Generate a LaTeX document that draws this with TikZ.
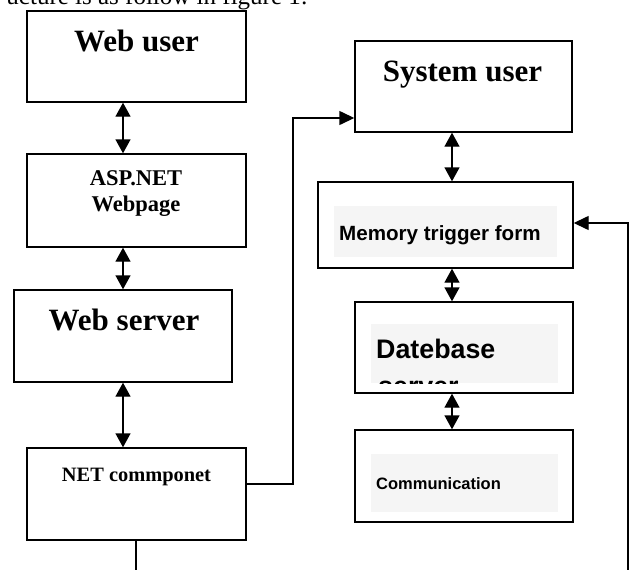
\documentclass[tikz,border=0pt]{standalone}
\usepackage{fontspec}
\setmainfont{Liberation Serif}
\newfontfamily\arialfam{Liberation Sans}
\usepackage{tikz}
\usetikzlibrary{positioning,arrows.meta}

\begin{document}
\begin{tikzpicture}[
  x=1pt, y=-1pt,
  box/.style={draw=black, line width=1.4pt, fill=white, inner sep=0pt},
  shadebox/.style={fill=black!4, inner sep=0pt},
  ttl/.style={anchor=base, inner sep=0pt, font=\bfseries\fontsize{31}{36}\selectfont},
  sml/.style={anchor=base, inner sep=0pt, font=\bfseries\fontsize{20.4}{24}\selectfont},
  sanslbl/.style={anchor=base west, inner sep=0pt, font=\arialfam\bfseries},
  dbl/.style={{Triangle[length=14pt,width=15pt]}-{Triangle[length=14pt,width=15pt]}, line width=1.4pt},
  one/.style={-{Triangle[length=15pt,width=14pt]}, line width=1.4pt},
  wire/.style={line width=1.4pt}
]
\useasboundingbox (0,0) rectangle (635,570);

% caption line cut at the top
\node[anchor=base east, inner sep=0pt, font=\fontsize{25}{30}\selectfont] (caption) at (308,5) {ucture is as follow in figure 1:};

% left column
\node[box, minimum width=219pt, minimum height=91pt] (webuser) at (136.5,56.5) {};
\node[ttl] (webusertxt) at (136.5,51) {Web user};

\node[box, minimum width=219pt, minimum height=93pt] (aspnet) at (136.5,200.5) {};
\node[align=center, inner sep=0pt, font=\bfseries\fontsize{22.5}{26}\selectfont] (aspnettxt) at (136,194) {ASP.NET\\Webpage};

\node[box, minimum width=218pt, minimum height=92pt] (webserver) at (123,336) {};
\node[ttl] (webservertxt) at (124,330) {Web server};

\node[box, minimum width=219pt, minimum height=92pt] (netcomp) at (136.5,494) {};
\node[sml] (netcomptxt) at (136.5,481) {NET commponet};

% right column
\node[box, minimum width=217pt, minimum height=91pt] (sysuser) at (463.5,86.5) {};
\node[ttl] (sysusertxt) at (462.5,81) {System user};

\node[box, minimum width=255pt, minimum height=86pt] (memory) at (445.5,225) {};
\node[shadebox, minimum width=223pt, minimum height=51pt] (memfill) at (445.5,231.5) {};
\node[sanslbl, font=\arialfam\bfseries\fontsize{20.6}{24}\selectfont] (memtxt) at (339,240) {Memory trigger form};

\node[box, minimum width=218pt, minimum height=91pt] (database) at (464,347.5) {};
\node[shadebox, minimum width=187pt, minimum height=59pt] (datafill) at (464.5,353.5) {};
\node[sanslbl, font=\arialfam\bfseries\fontsize{26.8}{31}\selectfont] (datatxt) at (376,358) {Datebase};
\begin{scope}
  \clip (371,324) rectangle (558,383.5);
  \node[sanslbl, font=\arialfam\bfseries\fontsize{26.8}{31}\selectfont] (servertxt) at (378,395) {server};
\end{scope}

\node[box, minimum width=218pt, minimum height=92pt] (comm) at (464,476) {};
\node[shadebox, minimum width=187pt, minimum height=58pt] (commfill) at (464.5,483) {};
\node[sanslbl, font=\arialfam\bfseries\fontsize{16.5}{20}\selectfont] (commtxt) at (376,489) {Communication};

% connectors
\coordinate (lx) at (123,0);
\coordinate (rx) at (452,0);
\draw[dbl] (lx |- webuser.south) -- (lx |- aspnet.north);
\draw[dbl] (lx |- aspnet.south) -- (lx |- webserver.north);
\draw[dbl] (lx |- webserver.south) -- (lx |- netcomp.north);
\draw[dbl] (rx |- sysuser.south) -- (rx |- memory.north);
\draw[dbl] (rx |- memory.south) -- (rx |- database.north);
\draw[dbl] (rx |- database.south) -- (rx |- comm.north);

\coordinate (nr) at (293,484);
\coordinate (nt) at (293,118);
\draw[one] (nr -| netcomp.east) -- (nr) -- (nt) -- (nt -| sysuser.west);

\coordinate (nb) at (136,576);
\draw[wire] (nb |- netcomp.south) -- (nb);

\coordinate (rb) at (628,576);
\coordinate (rt) at (628,223);
\draw[one] (rb) -- (rt) -- (rt -| memory.east);

\end{tikzpicture}
\end{document}
